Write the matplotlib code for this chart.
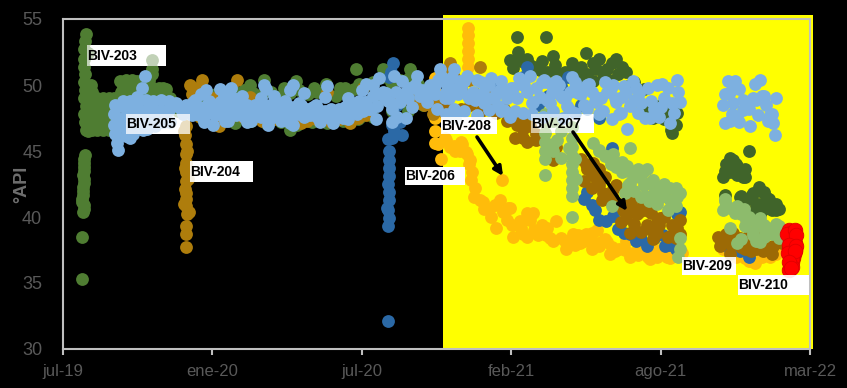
import matplotlib
matplotlib.use('Agg')
import matplotlib.pyplot as plt
from matplotlib.patches import Rectangle
from matplotlib.transforms import Affine2D

# x = days since 1 jul 2019, y = degrees API
tick_days = [0, 195, 390, 585, 780, 975]
tick_names = ['jul-19', 'ene-20', 'jul-20', 'feb-21', 'ago-21', 'mar-22']
api_ticks = [30, 35, 40, 45, 50, 55]

biv203_x = [30, 29, 28, 27, 28, 29, 28, 29, 28, 30, 28, 29, 30, 32, 29, 28, 27, 27, 26, 26, 25, 27, 26, 25, 25,
            32, 38, 44, 52, 60, 34, 42, 50, 58, 66, 32, 40, 48, 56, 64, 36, 44, 52, 60, 66, 72,
            78, 86, 94, 102, 112, 120, 130, 74, 82, 90, 100, 110, 122, 134, 140, 116, 116,
            244, 262, 288, 304, 327, 343, 362, 368, 383, 386, 418, 453, 296, 388,
            150, 170, 190, 222, 196, 175, 210, 230, 250, 270, 290, 310, 330, 350, 370, 390, 410, 430, 450, 470,
            33, 36, 38, 36, 38, 40, 34, 40, 46, 52, 58, 64, 37, 43, 49, 55, 61, 67, 34, 40, 46, 52, 58, 64,
            27, 28, 26, 27, 26, 25, 27, 75, 82, 90, 96, 76, 84, 92, 100, 108, 118, 125, 135, 128, 112, 116,
            200, 212, 224, 236, 248, 260, 272, 284, 296, 308, 320, 332, 344, 356, 368, 380, 392, 404, 416, 428, 440, 452, 464,
            205, 225, 245, 265, 285, 305, 325, 345, 365, 385, 405]
biv203_y = [53.9, 53.3, 52.7, 52.0, 51.4, 50.8, 50.2, 49.6, 49.0, 48.4, 47.8, 47.2, 46.6, 46.5, 44.7, 44.1, 43.5, 42.9, 42.3, 41.7, 41.1, 40.6, 40.4, 38.5, 35.3,
            46.6, 46.6, 46.6, 46.6, 46.6, 47.4, 47.4, 47.4, 47.4, 47.4, 48.2, 48.2, 48.2, 48.2, 48.2, 49, 49, 49, 49, 49, 49,
            49.9, 49.9, 49.9, 49.7, 49.6, 49.7, 49.8, 49, 49, 49, 49, 49, 49, 49, 49, 51.2, 51.9,
            50, 50.4, 49.8, 50.3, 49.8, 50.1, 49.8, 49.8, 51.2, 50.1, 51.2, 51.2, 46.6, 47.6,
            48, 48, 48, 49.6, 49.1, 49, 48, 48, 48, 48, 48, 48, 48, 48, 48, 48, 48.6, 48, 48, 48.5,
            52.4, 50, 49.5, 48.5, 47.5, 46.7, 47, 47, 47, 47, 47, 47, 47.8, 47.8, 47.8, 47.8, 47.8, 47.8, 48.6, 48.6, 48.6, 48.6, 48.6, 48.6,
            44.4, 43.8, 43.2, 42.6, 42, 41.4, 40.9, 50.3, 50.4, 50.4, 50.3, 49.5, 49.6, 49.5, 49.4, 49.5, 49.8, 49.8, 49.7, 49.2, 50.4, 50.8,
            49.3, 49.5, 49.2, 49.6, 49.4, 49.3, 49.5, 49.2, 49.4, 49.6, 49.3, 49.5, 49.4, 49.2, 49.5, 49.7, 49.8, 50.2, 50.6, 50.2, 50.4, 50.5, 50.1,
            47.2, 47.1, 47.3, 47.1, 47.2, 47, 47.2, 47.1, 47.3, 47.4, 47.6]

biv204_x = [160, 159, 160, 160, 160, 161, 160, 159, 160, 161, 164, 160, 160, 160,
            166, 181, 168, 227, 203, 344, 375, 431, 440, 457, 318, 301, 362, 396, 218, 179, 196, 249, 244, 392, 275,
            471, 505, 544, 505, 480, 520, 490, 500,
            158, 162, 159, 163, 161, 158, 162, 175, 172, 210, 235, 260, 290, 310, 330, 350, 385, 448, 465, 483, 495, 510, 530, 555]
biv204_y = [46.9, 46.2, 45.5, 44.8, 44.1, 43.4, 42.7, 42.1, 41.4, 40.8, 40.4, 39.3, 38.7, 37.7,
            50, 50.4, 49.3, 50.4, 46.9, 49.5, 47.1, 49.1, 48.8, 49.3, 47.3, 47.8, 47.4, 47.7, 47.6, 47.6, 49, 47.6, 49.1, 49.8, 47.4,
            48.5, 51.7, 51.4, 50.4, 48.5, 49.8, 48.8, 50.8,
            46.5, 45, 43.7, 42.9, 41.8, 41, 40.2, 49.8, 49, 47.8, 47.6, 47.3, 47.4, 47.1, 47.4, 47.2, 47.5, 49, 48.6, 47.8, 48, 50.6, 50.4, 49.8]

biv205_x = [68, 67, 67, 68, 70, 72, 83, 80, 80, 82, 88, 92, 107, 103,
            88, 98, 108, 118, 128, 138, 144, 88, 98, 108, 118, 128, 138, 92, 102, 112, 122, 132,
            148, 155, 163, 172, 180, 187, 190, 178, 168, 184, 196, 200, 205, 210, 210, 219, 222, 226, 216, 234, 240, 236, 246,
            250, 258, 258, 265, 268, 275, 272, 280, 284, 290, 296, 300, 296, 308, 315, 320, 330, 338, 346, 352, 342, 360, 366,
            372, 378, 384, 390, 396, 402, 405, 412, 418, 424, 430, 436, 432, 442, 448, 455, 462, 468, 475, 479,
            486, 492, 498, 504, 510, 485, 498, 510, 520, 527, 535, 545, 552, 558, 565, 572, 575, 588, 590, 595, 605, 610, 618,
            625, 632, 640, 648, 655, 660, 668, 672, 680, 690, 700, 705, 715, 722, 726, 735, 740, 736, 748, 755, 760, 768, 775,
            778, 785, 790, 792, 795, 801, 803, 805,
            868, 877, 903, 910, 864, 931, 862, 875, 888, 901, 918, 873, 888, 907, 923, 864, 897, 927, 929,
            # filling the band
            74, 75, 78, 86, 94, 100, 110, 120, 130, 140, 90, 105, 96,
            152, 160, 170, 176, 186, 194, 204, 212, 220, 230, 238, 244, 254, 262, 270, 278, 286, 294, 302, 310, 318, 326, 334, 342, 350, 358, 368, 376, 386, 394, 404, 414, 422, 434, 444, 452, 460, 470,
            156, 166, 174, 182, 190, 198, 208, 216, 226, 234, 242, 252, 260, 268, 276, 288, 298, 306, 314, 322, 332, 340, 348, 356, 364, 374, 382, 392, 400, 410, 420, 428, 440, 450, 458, 466, 476,
            482, 490, 500, 508, 515, 524, 530, 540, 548, 556, 562, 570, 580, 585, 598, 602, 614, 622, 630, 636, 644, 652, 662, 665, 676, 684, 694, 702, 710, 718, 730, 745,
            494, 506, 518, 528, 538, 550, 560, 568, 578, 592, 600, 612, 628, 638, 650, 658, 670, 686, 696, 708, 720, 732, 744, 752, 764, 772, 782, 798,
            870, 882, 893, 905, 912, 880, 895, 915, 925, 870, 882, 920,
            # lower edge of the band
            488, 500, 512, 524, 540, 556, 572, 584, 600, 612, 626, 640, 652, 668, 684, 700, 716, 728, 750, 766, 780,
            212, 240, 268, 300, 336, 372, 408, 430, 448, 205, 262, 300, 345, 395]
biv205_y = [48.5, 47.8, 47, 46.3, 45.6, 45.1, 48, 47.5, 46.8, 46.1, 46, 46.3, 50.7, 49.8,
            48.8, 48.8, 48.9, 48.8, 48.9, 48.8, 48.5, 48.1, 48.1, 48.1, 48.1, 48.1, 48.1, 47.4, 47.4, 47.4, 47.4, 47.4,
            48.6, 48, 48.4, 48.9, 49.3, 49.6, 48.8, 47.9, 47.7, 47.2, 47, 48, 48.7, 49.2, 47.6, 49.8, 49, 48.2, 47.3, 49.2, 48.5, 47.6, 47.3,
            48.5, 49, 47.6, 49.7, 48.4, 49.2, 47.5, 48.1, 47.3, 48.8, 49.6, 48.2, 47.1, 48.6, 49.4, 48, 48.5, 47.5, 47.7, 47.1, 49.1, 48.2, 47.5,
            49, 48.4, 47.8, 49.6, 48.7, 48.2, 50, 50.5, 49.5, 48.8, 48.2, 47.6, 50.7, 50.3, 49.5, 48.3, 50.7, 49.6, 48.7, 50,
            49.3, 51.2, 50.2, 49, 51.2, 50, 49, 48.2, 49.8, 50.7, 49.5, 50.2, 49, 50.5, 49.3, 50.3, 48.1, 49.8, 48, 50.5, 49.5, 50.7, 49.8,
            50.2, 48.9, 49.6, 50, 49, 48.2, 50.2, 49.4, 48.5, 49.5, 49, 48, 49.8, 48.7, 47.8, 49.5, 48.4, 46.7, 49.8, 48.6, 47.5, 48.8, 50,
            47.6, 49, 49.8, 47.1, 48.6, 50.4, 49.5, 48.7,
            50.3, 50.3, 50.1, 50.4, 49.3, 49, 48.5, 48.6, 48.9, 49, 48.5, 47.8, 48.1, 47.7, 47.7, 47.1, 46.9, 47.1, 46.2,
            47.4, 48.4, 48.8, 46.9, 46.8, 47.1, 46.7, 46.9, 47.2, 47.2, 46.5, 46.6, 49.1,
            48.3, 48.5, 48.7, 48.3, 48.4, 48.2, 48.3, 48.6, 48.4, 48.4, 48.3, 48.2, 48.4, 48.4, 48.5, 48.3, 48.6, 48.4, 48.3, 48.5, 48.2, 48.3, 48.1, 48, 48.2, 48, 48.3, 48.6, 48.8, 48.7, 49.2, 49.3, 49.4, 49.5, 49.1, 49.8, 50, 49.4,
            47.8, 47.9, 47.8, 47.6, 47.9, 47.7, 47.8, 47.9, 47.7, 47.8, 47.9, 47.9, 47.7, 47.8, 47.9, 47.7, 47.8, 47.8, 47.6, 47.7, 47.6, 47.6, 47.5, 47.6, 47.8, 47.9, 48.2, 48, 48.2, 48.4, 49, 48.6, 48.7, 49, 49.8, 49.2, 49.4,
            49.6, 50.4, 49.5, 50.6, 49.3, 50.3, 49, 50.4, 49.4, 50, 49, 49.6, 49, 49.8, 50.3, 50, 48.7, 49.1, 50.2, 48.6, 50.3, 49, 49.5, 50.6, 49.3, 50, 48.8, 49, 49.5, 50, 49.1, 48.9,
            50.7, 49.8, 50.3, 49.2, 48.9, 48.6, 49, 48.4, 49.5, 49, 50, 48.6, 50.4, 49.4, 49.2, 48.4, 49.9, 50.1, 48.7, 50.2, 49, 49.9, 50.3, 49.4, 49.8, 48.2, 50.1, 47.9,
            49.5, 49.7, 48.4, 48.9, 49.2, 47.6, 48.2, 49.2, 47.8, 47.3, 47.2, 47.3,
            48.2, 47.8, 47.5, 48, 47.7, 48.1, 48, 47.6, 47.9, 47.8, 47.6, 48, 47.5, 47.9, 48.2, 47.8, 47.4, 47.9, 47.9, 47.5, 48.3,
            47.3, 47.2, 47, 47, 47.2, 47.4, 47.4, 47.2, 47.5, 49.7, 50, 50, 49.9, 50.1]

biv206_x = [431, 429, 442, 429, 440, 432, 425, 425, 426, 424, 426, 425, 423, 424, 425, 424, 424, 424,
            605, 536, 633, 659, 505, 716, 684, 694, 709, 725, 740, 755, 792, 801, 884, 783, 600, 560, 620, 650, 676, 700,
            690, 700, 718, 732, 748, 762, 772, 786, 800, 805, 680, 426, 434, 428, 436, 426, 870, 895]
biv206_y = [51.7, 46, 46.2, 47, 47.2, 46.5, 44.3, 43.7, 43.1, 42.5, 41.9, 41.3, 40.7, 40.5, 39.9, 39.3, 32.1, 45.9,
            51.4, 49.4, 49.2, 50.6, 49.4, 45.2, 41.9, 40.5, 39.7, 39.1, 38.7, 38.3, 37.9, 40.2, 37.4, 38.6, 50.6, 50.2, 48.5, 49.9, 48.5, 47.5,
            40.9, 39.8, 40.1, 38.8, 38.2, 37.8, 38.4, 37.8, 37.6, 40.4, 41.4, 45, 47.6, 51, 48.5, 50.6, 37.5, 37]

biv207_x = [531, 557, 588, 601, 618, 644, 636, 683, 697, 705, 736, 749, 762, 779, 801, 740, 731, 690, 680, 676, 700, 715, 760, 775, 790, 805,
            862, 879, 897, 914, 927, 872, 890, 905, 580, 600, 625, 640, 520, 500,
            535, 545, 555, 565, 575, 584, 592, 600, 610, 618, 590, 605, 684, 692, 700, 708, 716, 722, 690, 704, 718, 726, 735, 745, 755, 765, 775, 785, 795, 805,
            728, 742, 752, 768, 778, 795, 740, 755, 770, 800, 855, 858, 866, 875, 885, 895, 905, 915, 925, 935, 870, 884, 898, 912, 930, 938]
biv207_y = [48.5, 48.2, 47.6, 46.7, 46.3, 45.3, 44.8, 44, 42.8, 41.8, 40.9, 40.2, 39.4, 39.9, 39.2, 40.7, 40.5, 43.2, 42.7, 44.4, 43.6, 41.2, 40.5, 39.6, 38.5, 38.7,
            38.4, 38.3, 38.1, 37.4, 37.8, 37.9, 37.6, 38.5, 47.3, 47.2, 46, 44.3, 48.2, 48.5,
            48.8, 48, 48.6, 47.9, 48.2, 47.4, 47, 46, 46.9, 45.8, 46, 45.7, 43.6, 44.1, 42.4, 43, 41.6, 42.4, 42.2, 41.3, 42.1, 41, 39.9, 39.5, 40.7, 39.1, 38.8, 40, 38.6, 39.8,
            39.6, 41.1, 40.4, 40.3, 39.4, 39.4, 38.8, 38.9, 38.3, 38.4, 38.5, 37.8, 38.7, 38.8, 37.7, 38.6, 37.6, 37.9, 37.2, 38.4, 37.2, 38.4, 37.4, 38.2, 38.6, 38]

biv207b_x = [592, 630, 594, 583, 640, 642, 683, 664, 692, 716, 696, 710, 731, 672, 740, 801, 784, 794, 762, 588, 610, 623, 600, 650, 705, 725, 745, 730, 770,
             870, 864, 879, 890, 864, 884, 899, 918, 931, 907, 923, 903, 910, 890, 895,
             598, 605, 615, 625, 632, 645, 655, 668, 676, 684, 700, 712, 722, 735, 680, 692, 745, 758, 775, 790, 800, 795,
             875, 865, 880, 862, 870, 880, 888, 885, 892, 900, 908, 915, 922, 930, 934, 905, 915, 925, 910]
biv207b_y = [53.6, 53.6, 52.5, 51.9, 52.2, 51.5, 52.4, 51.7, 51.7, 51.7, 51.2, 51.2, 51.1, 51.2, 50, 47.9, 47.4, 46.6, 48.3, 51.3, 51.5, 51.1, 51.9, 50.8, 50.5, 50.8, 50.2, 51.4, 47.5,
             44.5, 43.5, 44, 43, 41.7, 41.5, 41.7, 41.5, 40.5, 41, 41, 40.4, 42, 43.6, 45,
             51.8, 52, 51.4, 51.8, 51, 50.9, 51, 51, 51.4, 50.8, 52, 50.4, 52, 51, 50.4, 50.3, 50, 49.7, 48.4, 47.9, 47, 46.4,
             44.3, 44, 43.9, 43, 43.4, 43.2, 43, 41.6, 41.3, 41.8, 42.3, 41.9, 41.4, 41, 40.6, 40.8, 40.6, 40.5, 40.2]

biv208_x = [529, 529, 529, 529, 529, 529, 485, 494, 505, 521, 531, 533, 536, 544, 559, 573, 570, 581, 588, 605, 614, 596, 627, 644, 605, 631, 657, 666, 683, 697, 705, 714, 740, 766, 788, 803,
            862, 879, 903, 923, 485, 485, 485, 485, 485, 498, 512, 527, 520, 550, 565, 615, 640, 625, 675, 690, 720, 750, 775, 795, 660, 710, 890, 940,
            490, 500, 510, 518, 526, 530, 534, 538, 548, 556, 564, 574, 584, 580, 586, 598, 610, 620, 632, 600, 636, 650, 660, 672, 680, 688, 698, 708, 716, 726, 734, 744, 754, 764, 772, 782, 792, 800, 808,
            655, 668, 690, 700, 735, 755, 785, 870, 890, 912, 930, 895]
biv208_y = [54.3, 53.8, 53.2, 52.6, 52, 51.4, 45.6, 44.4, 45.3, 45.5, 44.3, 42.8, 41.5, 41.3, 40, 42.8, 41.3, 40.7, 38.5, 40.3, 40.3, 39.7, 38.9, 39.7, 38.5, 38.6, 37.6, 38.7, 38.7, 39, 38.2, 37.2, 37, 36.8, 37, 37.6,
            37.6, 37, 36.5, 37, 50.5, 49.5, 48.5, 47.5, 46.5, 46, 45, 44.8, 45.7, 40.6, 39.2, 39, 38.2, 39.4, 38, 37.6, 37.4, 37.1, 37, 37.2, 37.9, 38.1, 37.2, 37.5,
            45.5, 45.8, 45.4, 45, 44.9, 44, 43.4, 42.2, 41.1, 40.6, 40.9, 40.4, 40.7, 39.8, 39.4, 39.2, 39.8, 38.6, 39.2, 38.7, 38.4, 38.4, 38.2, 38.6, 38.2, 38.5, 38, 38.3, 37.7, 37.6, 37.5, 37.3, 37.5, 37, 37.5, 37.4, 36.9, 37.4, 37.3,
            38.2, 37.9, 38.8, 37.8, 38.2, 37.7, 37.8, 37.3, 36.9, 37, 37.2, 36.7]

biv209_x = [629, 629, 629, 629, 629, 629, 629, 664, 664, 664, 664, 664, 664, 664, 664, 664, 664, 692, 710, 736, 757, 762, 801, 779, 792, 740, 733, 740, 716, 803, 805, 805,
            700, 720, 745, 770, 785, 800, 640, 650, 790, 760,
            864, 862, 877, 892, 910, 931, 870, 901, 910, 923, 889, 915, 880, 935,
            640, 650, 645, 640, 660, 668, 670, 700, 708, 715, 722, 730, 738, 745, 752, 758, 765, 772, 780, 785, 795, 800, 775, 765, 755, 745, 738, 792, 805, 750, 730, 718,
            864, 870, 880, 885, 895, 905, 915, 925, 935, 900, 915, 905, 925, 930, 885, 890]
biv209_y = [47.8, 47.1, 46.4, 45.7, 45, 44.4, 43.2, 46.8, 46, 45.3, 44.6, 44, 43.4, 42.8, 42.2, 41.6, 40, 45.6, 44.6, 43.9, 43.4, 43.6, 41.5, 42.3, 41.3, 42.6, 41.8, 45.2, 40.8, 37, 37.6, 38.4,
            45, 44, 43.4, 42.8, 42, 42.2, 45.5, 44.5, 40.5, 41.6,
            41.4, 40.5, 40.3, 39.8, 39.9, 39.5, 39.2, 38.6, 38.1, 38.8, 40.6, 39.2, 38, 38.4,
            47.3, 46.5, 45.8, 45, 45.2, 44.4, 42.9, 45.1, 44.6, 44, 43.8, 43.4, 43.5, 43.2, 43, 42.4, 42.6, 41.8, 41.5, 42.5, 41, 40.8, 41, 41.2, 41.5, 42, 42.4, 42.2, 41.8, 43.6, 44.2, 44.8,
            41.2, 40.7, 40.8, 40.2, 40, 39.6, 39.4, 39.2, 39.3, 38.9, 38.5, 38.2, 38.7, 38.8, 38.3, 39.3]

biv210_x = [947, 950, 952, 953, 954, 955, 955, 955, 954, 953, 951, 950, 948, 949, 947, 949, 951, 953,
            945, 955, 957, 948, 957, 946, 952, 956, 948, 950]
biv210_y = [39, 38.8, 38.6, 38.4, 38.2, 38, 37.7, 37.5, 37.2, 36.9, 36.6, 36.3, 36, 38.2, 37.6, 37, 36.8, 37.4,
            38.7, 39, 38.6, 37.9, 37.8, 37.3, 36.2, 37.4, 36.6, 36.1]

# label, box left, box top, box right, box bottom, overlay alpha (picture pixels)
label_boxes = [('BIV-203', 87, 45, 166, 66, 0.65), ('BIV-205', 126, 114, 190, 134, 0.75),
               ('BIV-204', 190, 161, 253, 182, 0.9), ('BIV-206', 405, 167, 465, 185, 0.9),
               ('BIV-208', 441, 117, 497, 134, 0.9), ('BIV-207', 531, 114, 594, 133, 0.6),
               ('BIV-209', 682, 257, 736, 275, 0.9), ('BIV-210', 738, 275, 809, 295, 0.9)]

fig = plt.figure(figsize=(8.47, 3.88), dpi=100, facecolor='black')
ax = fig.add_axes([63 / 847, 1 - 349 / 388, (810 - 63) / 847, (349 - 19) / 388])
ax.set_facecolor('black')
to_px = Affine2D().scale(1 / 847, -1 / 388).translate(0, 1) + fig.transFigure

ax.add_patch(Rectangle((443, 15), 370, 334, facecolor='#FFFF00', edgecolor='none',
                       transform=to_px, clip_on=False, zorder=0.5))

ax.scatter(biv203_x, biv203_y, s=85, color='#4F7D32', lw=0, zorder=2)
ax.scatter(biv207b_x, biv207b_y, s=85, color='#40642A', lw=0, zorder=2.1)
ax.scatter(biv208_x, biv208_y, s=85, color='#FFBC0A', lw=0, zorder=2.2)
ax.scatter(biv204_x, biv204_y, s=85, color='#AE7D0C', lw=0, zorder=2.3)
ax.scatter(biv206_x, biv206_y, s=85, color='#2B69A6', lw=0, zorder=2.4)
ax.scatter(biv207_x, biv207_y, s=85, color='#9C6A05', lw=0, zorder=2.5)
ax.scatter(biv209_x, biv209_y, s=85, color='#8DBB6C', lw=0, zorder=2.6)
ax.scatter(biv205_x, biv205_y, s=85, color='#7DB0E0', lw=0, zorder=2.7)
ax.scatter(biv210_x, biv210_y, s=110, color='#FF0000', edgecolor='#E00000', lw=0.6, zorder=2.8)

ax.set_xlim(0, 975)
ax.set_ylim(30, 55)
ax.set_xticks(tick_days)
ax.set_xticklabels(tick_names)
ax.set_yticks(api_ticks)

for s in ax.spines.values():
    s.set_color('#BFBFBF')
    s.set_linewidth(1.5)
    s.set_zorder(3)
ax.tick_params(axis='x', length=4, width=1.5, color='#BFBFBF', labelcolor='#595959', labelsize=12, pad=7)
ax.tick_params(axis='y', length=0, labelcolor='#595959', labelsize=13, pad=15)
for t in ax.get_xticklabels() + ax.get_yticklabels():
    t.set_family('Liberation Sans')
ax.text(22, 184, '°API', transform=to_px, rotation=90, color='#6E6E6E', fontsize=13, fontweight='bold',
        family='Liberation Sans', ha='center', va='center', clip_on=False)

for name, left, top, right, bottom, alpha in label_boxes:
    ax.add_patch(Rectangle((left, top), right - left, bottom - top, facecolor='white', edgecolor='none',
                           transform=to_px, clip_on=False, zorder=1))
    ax.add_patch(Rectangle((left, top), right - left, bottom - top, facecolor='white', alpha=alpha, edgecolor='none',
                           transform=to_px, clip_on=False, zorder=5))
    ax.text(left, (top + bottom) / 2, name, transform=to_px, fontsize=10, fontweight='bold', color='black',
            family='Liberation Sans', ha='left', va='center', zorder=6, clip_on=False)

ax.annotate('', xy=(503, 176), xytext=(477, 137), xycoords=to_px, textcoords=to_px, zorder=7,
            arrowprops=dict(arrowstyle='-|>', color='black', lw=2.6, mutation_scale=13, shrinkA=0, shrinkB=0))
ax.annotate('', xy=(627, 211), xytext=(573, 132), xycoords=to_px, textcoords=to_px, zorder=7,
            arrowprops=dict(arrowstyle='-|>', color='black', lw=2.6, mutation_scale=13, shrinkA=0, shrinkB=0))

fig.savefig('out.png', dpi=100, facecolor='black')
